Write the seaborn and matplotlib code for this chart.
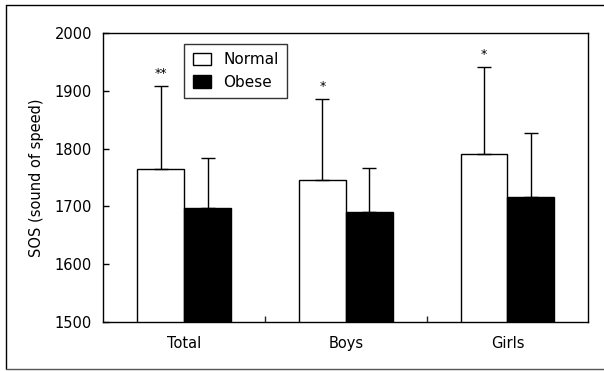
import numpy as np
import pandas as pd
import seaborn as sns
import matplotlib.pyplot as plt
from matplotlib.patches import Patch
from matplotlib.lines import Line2D

groups = ["Total", "Boys", "Girls"]
status = ["Normal", "Obese"]
means_normal = [1764, 1745, 1791]
means_obese = [1698, 1690, 1716]
sd_normal = [145, 141, 151]
sd_obese = [86, 76, 111]
stars = ["**", "*", "*"]

df = pd.DataFrame({
    "group": groups * 2,
    "status": ["Normal"] * 3 + ["Obese"] * 3,
    "sos": means_normal + means_obese,
})

sns.set_theme(style="white")
plt.rcParams['font.family'] = ['DejaVu Sans']
plt.rcParams['text.color'] = 'black'

fig = plt.figure(figsize=(6.04, 3.71), dpi=100)
fig.patch.set_linewidth(0)
fig.patch.set_edgecolor("white")
ax = fig.add_axes([0.171, 0.132, 0.803, 0.779])

sns.barplot(data=df, x="group", y="sos", hue="status", order=groups,
            hue_order=status, palette={"Normal": "white", "Obese": "black"},
            edgecolor="black", linewidth=1, width=0.58, errorbar=None,
            legend=False, ax=ax)

sds = [sd_normal, sd_obese]
bar_containers = list(ax.containers)
for ci, cont in enumerate(bar_containers):
    for bi, bar in enumerate(cont.patches):
        xc = bar.get_x() + bar.get_width() / 2
        h = bar.get_height()
        ax.errorbar(xc, h, yerr=[[0], [sds[ci][bi]]], fmt="none",
                    ecolor="black", elinewidth=1, capsize=5, capthick=1, zorder=3)
        if ci == 0:
            ax.text(xc, h + sds[ci][bi] + 10, stars[bi], ha="center",
                    va="bottom", fontsize=9, color="black")

ax.set_ylim(1500, 2000)
ax.set_xlim(-0.5, 2.5)
ax.set_yticks([1500, 1600, 1700, 1800, 1900, 2000])
ax.set_xlabel("")
ax.set_ylabel("SOS (sound of speed)", fontsize=10.5, color="black", labelpad=8)
ax.tick_params(axis="y", direction="in", length=4, width=1, labelsize=10.5,
               colors="black", left=True, pad=8)
ax.tick_params(axis="x", length=0, labelsize=10.5, colors="black", pad=10)
ax.set_xticks([0.5, 1.5], minor=True)
ax.tick_params(axis="x", which="minor", direction="in", length=4, width=1,
               bottom=True)
for s in ax.spines.values():
    s.set_color("black")
    s.set_linewidth(1)

handles = [Patch(facecolor="white", edgecolor="black", label="Normal"),
           Patch(facecolor="black", edgecolor="black", label="Obese")]
leg = ax.legend(handles=handles, loc="upper left",
                bbox_to_anchor=(0.167, 0.962), borderaxespad=0,
                fancybox=False, frameon=True, fontsize=11,
                handlelength=1.2, handleheight=0.9, borderpad=0.55,
                labelspacing=0.5, handletextpad=0.8)
leg.get_frame().set_edgecolor("black")
leg.get_frame().set_linewidth(1)
for t in leg.get_texts():
    t.set_color("black")

# outer border of figure
fig.add_artist(Line2D([0.010, 0.010], [0.005, 0.986], color="black", lw=1,
                      transform=fig.transFigure))
fig.add_artist(Line2D([0.010, 1.0], [0.986, 0.986], color="black", lw=1,
                      transform=fig.transFigure))
fig.add_artist(Line2D([0.010, 1.0], [0.005, 0.005], color="#555555", lw=1,
                      transform=fig.transFigure))

fig.savefig("out.png", dpi=100)
